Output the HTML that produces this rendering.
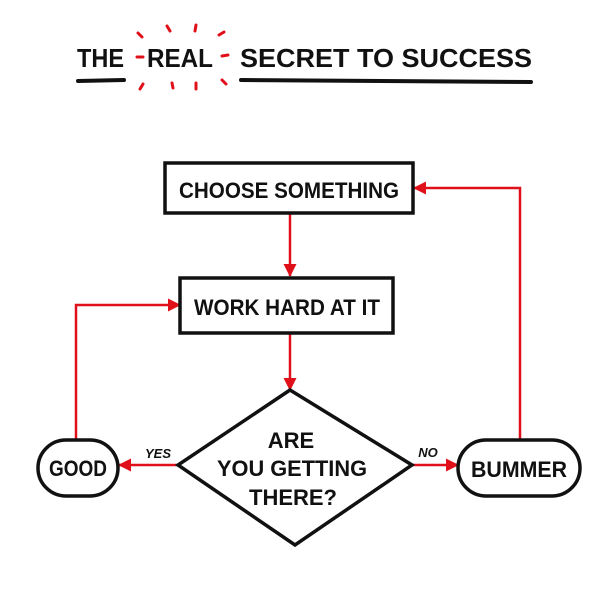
<!DOCTYPE html><html><head><style>body{margin:0;background:#fff}svg{display:block}text{font-family:"Liberation Sans",sans-serif;fill:#111;font-weight:bold}</style></head><body>
<svg width="600" height="600" viewBox="0 0 600 600">
<defs><marker id="a" markerWidth="13" markerHeight="13" refX="12" refY="6.5" orient="auto" markerUnits="userSpaceOnUse"><path d="M0,0 L13,6.5 L0,13 z" fill="#e0101a"/></marker></defs>
<g font-size="26" text-anchor="start">
<text x="77" y="67" textLength="47" lengthAdjust="spacingAndGlyphs">THE</text>
<text x="147" y="67" textLength="66" lengthAdjust="spacingAndGlyphs">REAL</text>
<text x="240" y="67" textLength="292" lengthAdjust="spacingAndGlyphs">SECRET TO SUCCESS</text>
</g>
<g stroke="#111" stroke-width="4" stroke-linecap="round"><line x1="78" y1="81" x2="124" y2="80"/><line x1="241" y1="80" x2="531" y2="82"/></g>
<g stroke="#e0101a" stroke-width="3" stroke-linecap="round">
<line x1="137" y1="57" x2="143" y2="57"/><line x1="222" y1="56" x2="228" y2="55"/>
<line x1="138" y1="33" x2="142" y2="37"/><line x1="167" y1="26" x2="170" y2="31"/><line x1="196" y1="25" x2="195" y2="31"/><line x1="219" y1="35" x2="224" y2="32"/>
<line x1="140" y1="89" x2="143" y2="84"/><line x1="172" y1="83" x2="173" y2="88"/><line x1="196" y1="83" x2="196" y2="89"/><line x1="222" y1="80" x2="226" y2="84"/>
</g>
<g stroke="#e0101a" stroke-width="2.5" fill="none">
<line x1="290" y1="213" x2="290" y2="276" marker-end="url(#a)"/>
<line x1="290" y1="333" x2="290" y2="390" marker-end="url(#a)"/>
<polyline points="76,440 76,305 180,305" marker-end="url(#a)"/>
<polyline points="520,440 520,188 414,188" marker-end="url(#a)"/>
<line x1="178" y1="465" x2="119" y2="465" marker-end="url(#a)"/>
<line x1="412" y1="465" x2="458" y2="465" marker-end="url(#a)"/>
</g>
<g stroke="#111" stroke-width="3.5" fill="#fff">
<rect x="165" y="163" width="248" height="50"/>
<rect x="180" y="278" width="213" height="55"/>
<polygon points="290,390 412,465 295,545 178,465"/>
<rect x="38" y="440" width="80" height="56" rx="28"/>
<rect x="458" y="440" width="122" height="56" rx="28"/>
</g>
<g font-size="22" text-anchor="middle">
<text x="289" y="198" textLength="220" lengthAdjust="spacingAndGlyphs">CHOOSE SOMETHING</text>
<text x="287" y="315" textLength="186" lengthAdjust="spacingAndGlyphs">WORK HARD AT IT</text>
<text x="291" y="448">ARE</text>
<text x="292" y="476" textLength="150" lengthAdjust="spacingAndGlyphs">YOU GETTING</text>
<text x="293" y="505">THERE?</text>
<text x="78" y="476" textLength="58" lengthAdjust="spacingAndGlyphs">GOOD</text>
<text x="519" y="477" textLength="96" lengthAdjust="spacingAndGlyphs">BUMMER</text>
</g>
<g font-size="13" font-style="italic" text-anchor="middle"><text x="158" y="458">YES</text><text x="428" y="457">NO</text></g>
</svg></body></html>
